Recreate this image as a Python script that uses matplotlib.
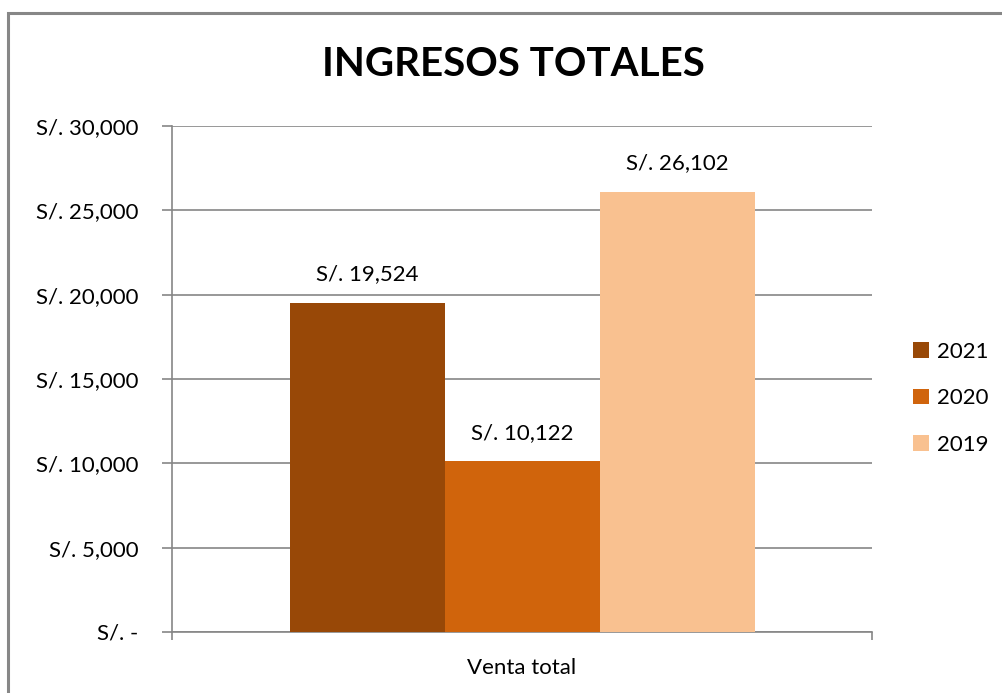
import matplotlib
matplotlib.use("Agg")
import matplotlib.pyplot as plt
from matplotlib.patches import Rectangle

years = ["2021", "2020", "2019"]
values = [19524, 10122, 26102]
colors = ["#984807", "#D0640C", "#F9C190"]
category = "Venta total"
yticks = [0, 5000, 10000, 15000, 20000, 25000, 30000]

plt.rcParams['font.family'] = ['Lato', 'DejaVu Sans']


def money(v):
  if v == 0:
    return "S/. -"
  return "S/. {:,.0f}".format(v)


fig = plt.figure(figsize=(10.02, 6.93), dpi=100)
ax = fig.add_axes([172 / 1002, 1 - 632 / 693, 700 / 1002, 506 / 693])

# outer chart border (runs off the right and bottom edges like the original)
fig.patches.append(Rectangle((8 / 1002, -0.1), 1.2, 1 - 13 / 693 + 0.1,
                             transform=fig.transFigure, fill=False,
                             edgecolor="#878787", linewidth=2.2))

width = 155 / 700
offsets = [-width, 0, width]
for yr, v, c, off in zip(years, values, colors, offsets):
  ax.bar(off, v, width=width, color=c, label=yr, zorder=3)
  ax.text(off, v + 1100, money(v), ha="center", va="bottom", fontsize=16)

ax.set_xlim(-0.5, 0.5)
ax.set_ylim(0, 30000)
ax.set_yticks(yticks)
ax.set_yticklabels([money(t) for t in yticks], fontsize=16)
ax.tick_params(axis="y", length=7, width=1.2, color="#868686", pad=17)
ax.set_xticks([-0.5, 0.5])
ax.set_xticklabels(["", ""])
ax.tick_params(axis="x", length=6, width=1.2, color="#868686")
ax.text(0.5, -0.052, category, transform=ax.transAxes, ha="center", va="top", fontsize=16)

ax.grid(axis="y", color="#868686", linewidth=1.2, zorder=0)
for s in ["top", "right"]:
  ax.spines[s].set_visible(False)
for s in ["left", "bottom"]:
  ax.spines[s].set_color("#868686")
  ax.spines[s].set_linewidth(1.2)

fig.text(513 / 1002, 1 - 65 / 693, "INGRESOS TOTALES", ha="center", va="center",
         fontsize=29, fontweight="bold")

ax.legend(loc="center left", bbox_to_anchor=(1.03, 0.462), frameon=False,
          fontsize=16, handlelength=0.7, handleheight=0.7, handletextpad=0.4,
          labelspacing=1.2)

fig.savefig("out.png", dpi=100)
